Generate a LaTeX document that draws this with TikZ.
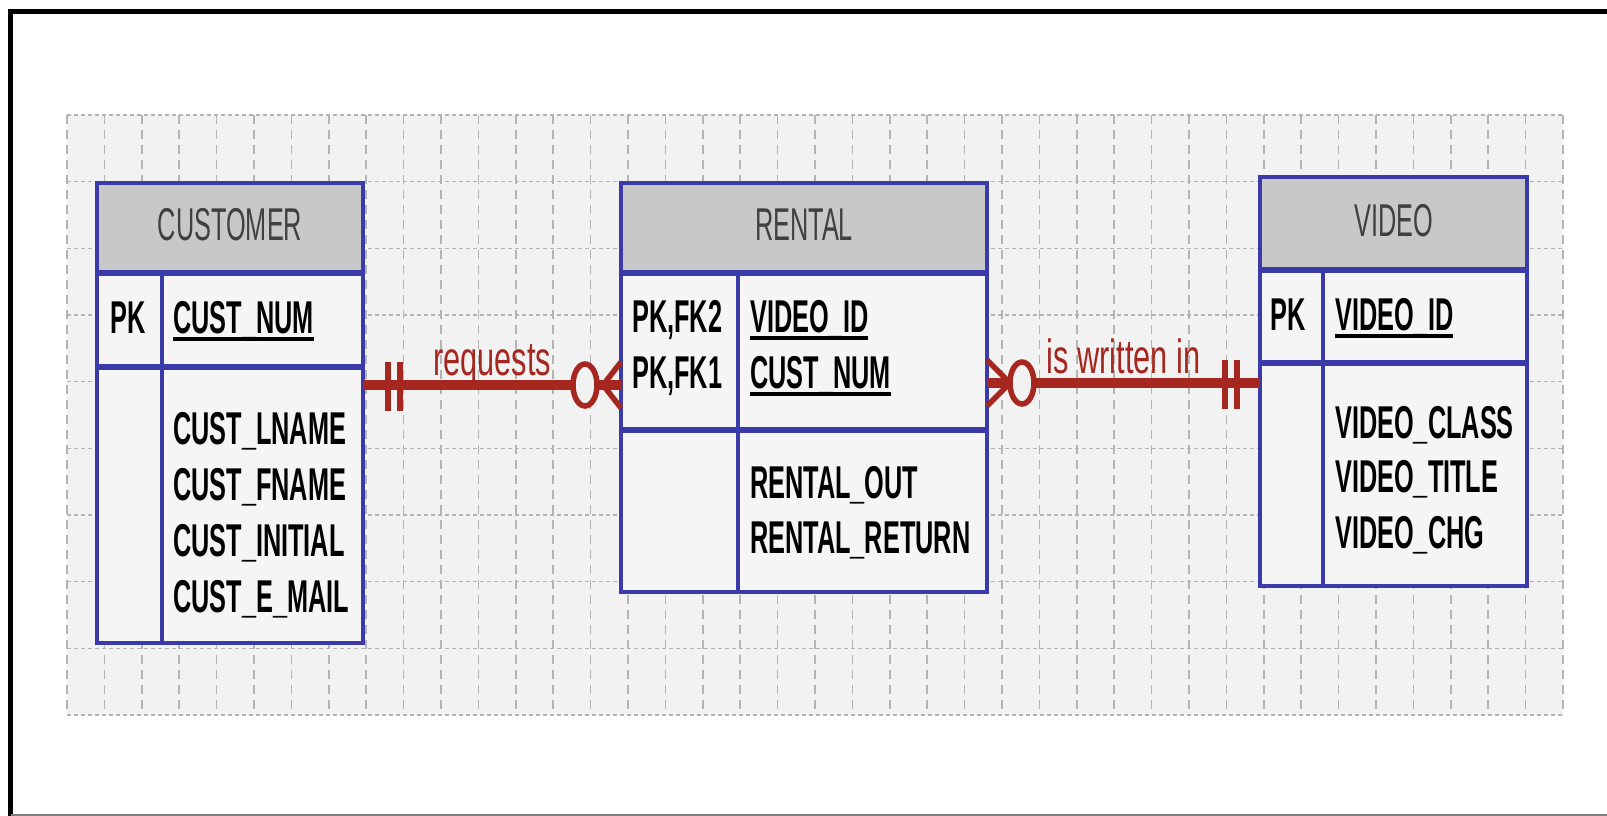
\documentclass[tikz,border=0pt]{standalone}
\usepackage{fontspec}
\newfontfamily\erfont[FakeStretch=0.55]{Liberation Sans}
\newfontfamily\relfont[FakeStretch=0.64]{Liberation Sans}
\usetikzlibrary{positioning}

\definecolor{erblue}{RGB}{58,58,168}
\definecolor{erhead}{RGB}{200,200,200}
\definecolor{erbody}{RGB}{245,245,245}
\definecolor{gridbg}{RGB}{242,242,242}
\definecolor{gridln}{RGB}{180,180,180}
\definecolor{relred}{RGB}{166,38,32}

\newsavebox{\keysave}
\newcommand{\keyattr}[1]{\sbox\keysave{#1}\rlap{\rule[-8pt]{\wd\keysave}{4pt}}\usebox\keysave}

\tikzset{
  tbl/.style={draw=erblue, line width=3.5pt, inner sep=0pt, outer sep=0pt},
  headbox/.style={tbl, fill=erhead, text=black!75, text height=33pt, text depth=8pt,
    font=\erfont\fontsize{46}{56}\selectfont},
  bodybox/.style={tbl, fill=erbody},
  sepline/.style={erblue, line width=6pt},
  colline/.style={erblue, line width=3.5pt},
  attr/.style={anchor=base west, inner sep=0pt, font=\erfont\bfseries\fontsize{46}{56}\selectfont},
  rel/.style={relred, line width=10pt},
  relmark/.style={relred, line width=5.5pt},
  rellabel/.style={anchor=base, inner sep=0pt, yshift=10pt, text=relred,
    font=\relfont\fontsize{48}{56}\selectfont},
  gridv/.style={gridln, line width=1.5pt, dash pattern=on 9pt off 6pt},
  gridh/.style={gridln, line width=1.5pt, dash pattern=on 4pt off 3pt},
}

\begin{document}
\begin{tikzpicture}[x=1pt, y=-1pt]
\useasboundingbox (0,0) rectangle (1607,816);

% frame
\draw[black, line width=5pt] (1607,12) -- (10.5,12) -- (10.5,816);
\draw[gray, line width=2pt] (10.5,815) -- (1607,815);

% grid paper
\fill[gridbg] (67,115) rectangle (1563,715);
\foreach \i in {0,...,40}
  \draw[gridv] ({67+37.4*\i},115) -- ({67+37.4*\i},715);
\foreach \j in {0,...,9}
  \draw[gridh] (67,{115+66.667*\j}) -- (1563,{115+66.667*\j});

% CUSTOMER
\node[headbox, minimum width=266pt, minimum height=90pt, anchor=north west] (custhead) at (97,183) {CUSTOMER};
\node[bodybox, minimum width=266pt, minimum height=94pt, below=0pt of custhead] (custkey) {};
\node[bodybox, minimum width=266pt, minimum height=276pt, below=0pt of custkey] (custattr) {};
\draw[sepline] (custkey.north west) -- (custkey.north east);
\draw[sepline] (custattr.north west) -- (custattr.north east);
\draw[colline] ([xshift=65pt]custkey.north west) -- ([xshift=65pt]custattr.south west);

\node[attr] (custpk) at (110,333) {PK};
\node[attr] (custnum) at (173,333) {\keyattr{CUST\_NUM}};
\node[attr] (custln) at (173,444) {CUST\_LNAME};
\node[attr] (custfn) at (173,500) {CUST\_FNAME};
\node[attr] (custin) at (173,556) {CUST\_INITIAL};
\node[attr] (custem) at (173,612) {CUST\_E\_MAIL};

% RENTAL
\node[headbox, minimum width=366pt, minimum height=90pt, anchor=north west] (renthead) at (621,183) {RENTAL};
\node[bodybox, minimum width=366pt, minimum height=157pt, below=0pt of renthead] (rentkey) {};
\node[bodybox, minimum width=366pt, minimum height=162pt, below=0pt of rentkey] (rentattr) {};
\draw[sepline] (rentkey.north west) -- (rentkey.north east);
\draw[sepline] (rentattr.north west) -- (rentattr.north east);
\draw[colline] ([xshift=117pt]rentkey.north west) -- ([xshift=117pt]rentattr.south west);

\node[attr] (rentpk2) at (632,332) {PK,FK2};
\node[attr] (rentpk1) at (632,388) {PK,FK1};
\node[attr] (rentvid) at (750,332) {\keyattr{VIDEO\_ID}};
\node[attr] (rentcust) at (750,388) {\keyattr{CUST\_NUM}};
\node[attr] (rentout) at (750,498) {RENTAL\_OUT};
\node[attr] (rentret) at (750,553) {RENTAL\_RETURN};

% VIDEO
\node[headbox, minimum width=267pt, minimum height=93pt, anchor=north west] (vidhead) at (1260,177) {VIDEO};
\node[bodybox, minimum width=267pt, minimum height=93pt, below=0pt of vidhead] (vidkey) {};
\node[bodybox, minimum width=267pt, minimum height=223pt, below=0pt of vidkey] (vidattr) {};
\draw[sepline] (vidkey.north west) -- (vidkey.north east);
\draw[sepline] (vidattr.north west) -- (vidattr.north east);
\draw[colline] ([xshift=63pt]vidkey.north west) -- ([xshift=63pt]vidattr.south west);

\node[attr] (vidpk) at (1270,330) {PK};
\node[attr] (vidid) at (1335,330) {\keyattr{VIDEO\_ID}};
\node[attr] (vidcls) at (1335,438) {VIDEO\_CLASS};
\node[attr] (vidttl) at (1335,492) {VIDEO\_TITLE};
\node[attr] (vidchg) at (1335,548) {VIDEO\_CHG};

% requests: one and only one -- zero or many
\coordinate (reqA) at ([yshift=-18pt]custattr.north east);
\draw[rel] (reqA) -- node[rellabel] (reqlbl) {requests} (reqA -| rentkey.west) coordinate (reqB);
\draw[relmark] ([shift={(25,-23)}]reqA) -- ([shift={(25,26)}]reqA);
\draw[relmark] ([shift={(37,-23)}]reqA) -- ([shift={(37,26)}]reqA);
\draw[relmark, fill=gridbg] ([xshift=-36pt]reqB) ellipse [x radius=12pt, y radius=21pt];
\draw[relmark] ([shift={(0,-23)}]reqB) -- ([xshift=-18pt]reqB) -- ([shift={(0,23)}]reqB);

% is written in: zero or many -- one and only one
\coordinate (wriB) at ([yshift=-20pt]vidattr.north west);
\draw[rel] (wriB -| rentkey.east) coordinate (wriA) -- node[rellabel] (wrilbl) {is written in} (wriB);
\draw[relmark] ([shift={(0,-23)}]wriA) -- ([xshift=23pt]wriA) -- ([shift={(0,23)}]wriA);
\draw[relmark, fill=gridbg] ([xshift=35pt]wriA) ellipse [x radius=12pt, y radius=21pt];
\draw[relmark] ([shift={(-35,-23)}]wriB) -- ([shift={(-35,26)}]wriB);
\draw[relmark] ([shift={(-23,-23)}]wriB) -- ([shift={(-23,26)}]wriB);
\end{tikzpicture}
\end{document}
